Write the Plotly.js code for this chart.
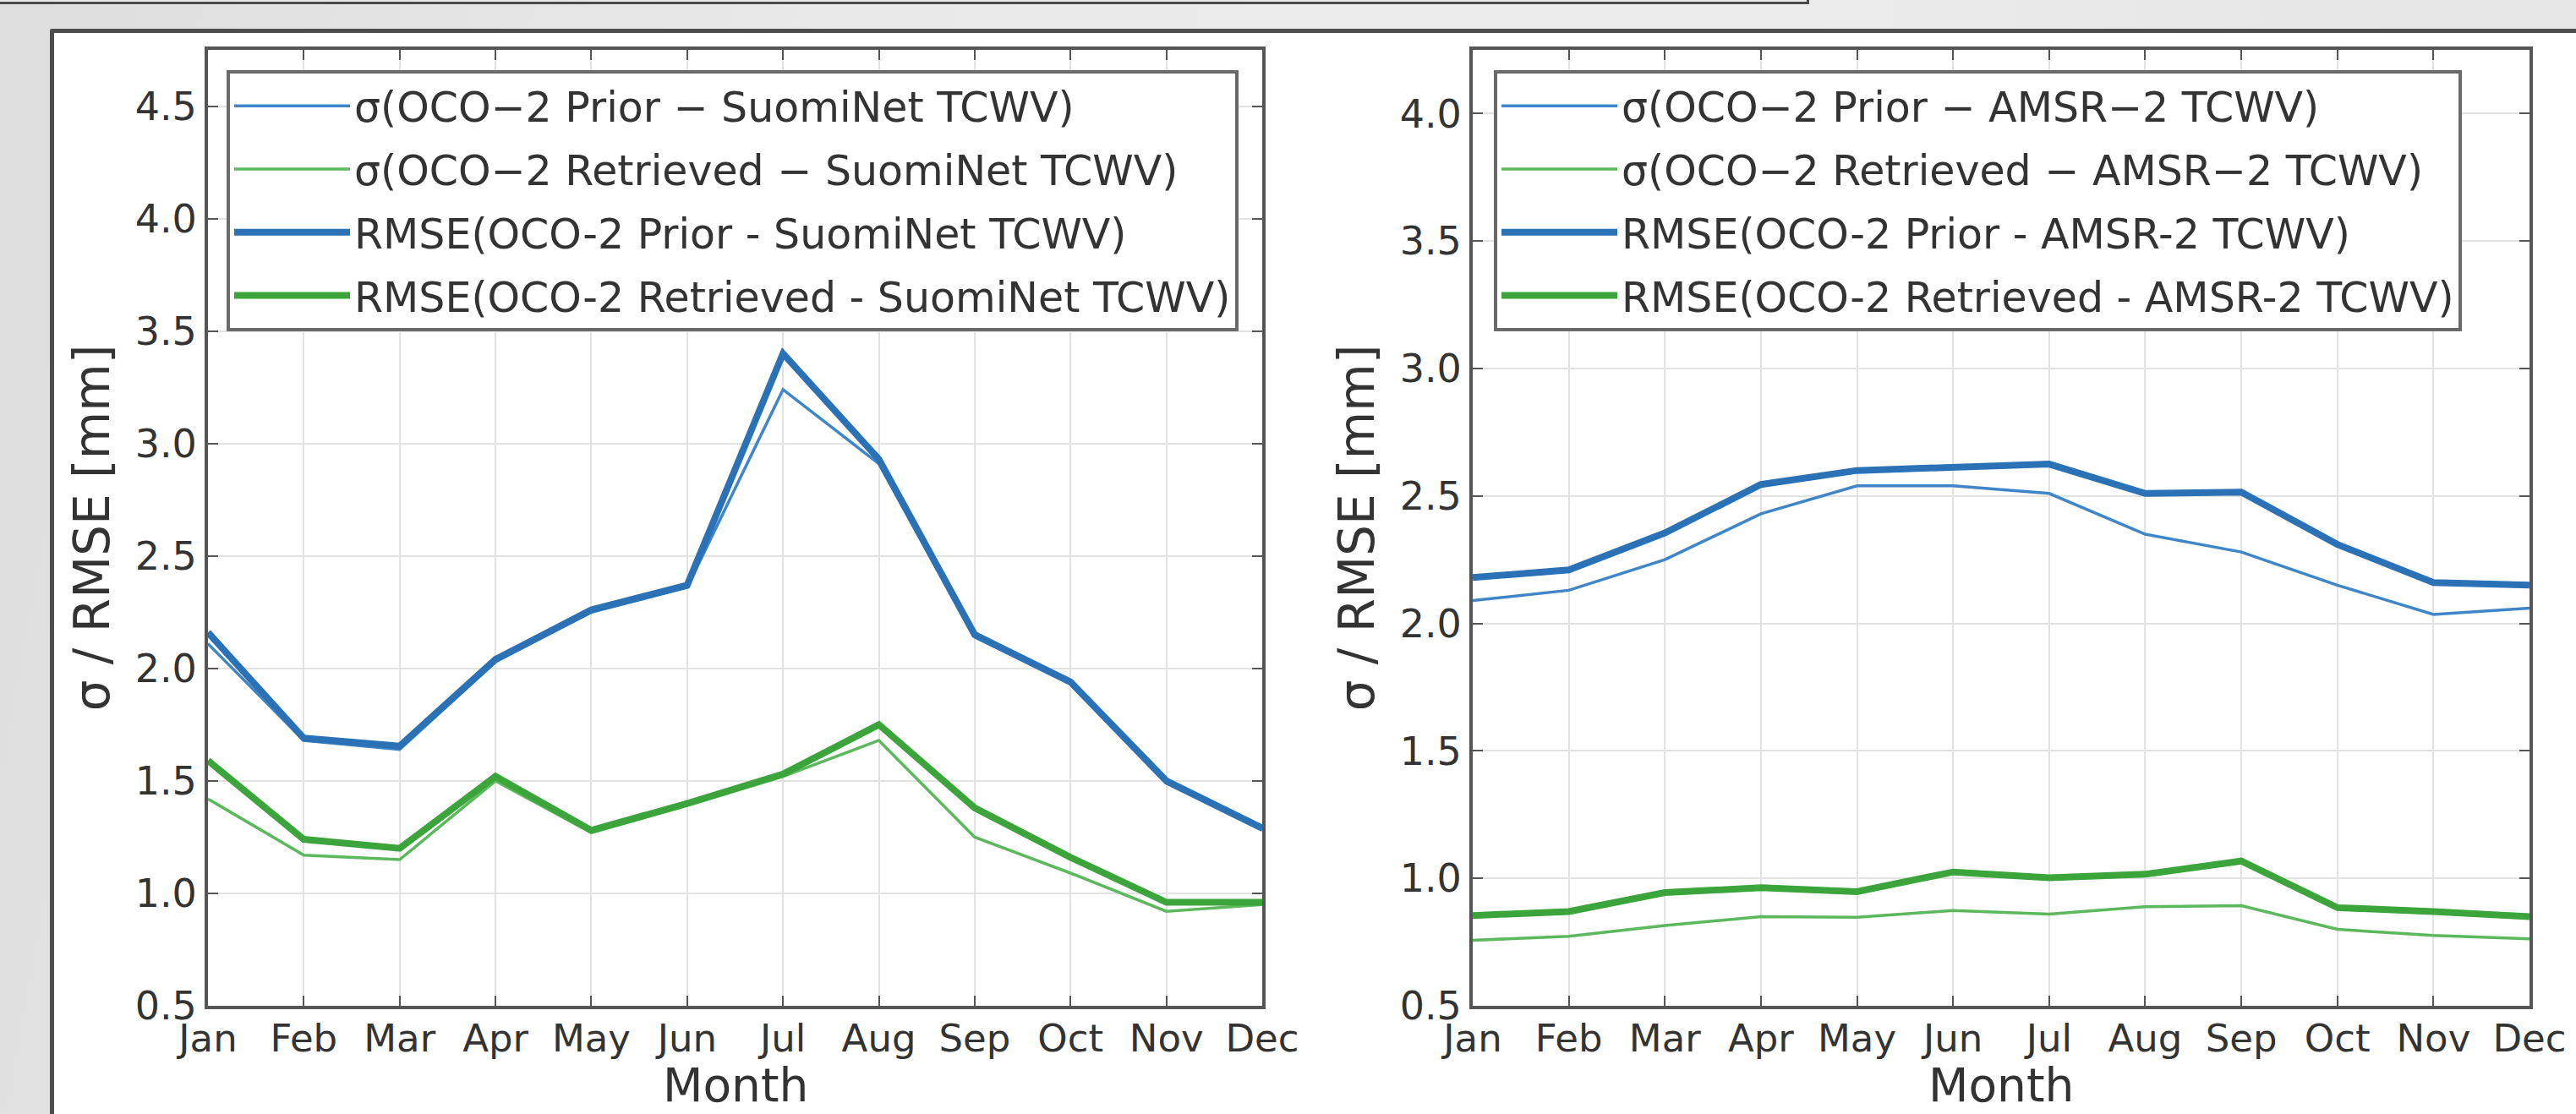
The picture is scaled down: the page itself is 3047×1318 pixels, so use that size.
<!DOCTYPE html>
<html>
<head>
<meta charset="utf-8">
<script src="https://cdn.plot.ly/plotly-3.0.1.min.js"></script>
<style>
  html, body { margin:0; padding:0; }
  body { width:3047px; height:1318px; overflow:hidden; position:relative;
         background: linear-gradient(100deg, #dedede 0%, #e9e9e9 30%, #ececec 60%, #e4e4e4 100%); }
  #topbox { position:absolute; left:-10px; top:-10px; width:2144px; height:9px;
            border:3px solid #4a4a4a; background:#e9e9e9; }
  #frame { position:absolute; left:59px; top:34px; width:3100px; height:1400px;
           border:5px solid #4d4d4d; background:#ffffff; border-radius:2px; }
  #chart { position:absolute; left:0; top:0; width:3047px; height:1318px; }
</style>
</head>
<body>
<div id="topbox"></div>
<div id="frame"></div>
<div id="chart"></div>
<script>
// ---- data ----
const months = ["Jan","Feb","Mar","Apr","May","Jun","Jul","Aug","Sep","Oct","Nov","Dec"];

// Left panel: OCO-2 vs SuomiNet
const sigmaPriorSuomi     = [2.11, 1.68, 1.64, 2.03, 2.25, 2.36, 3.24, 2.91, 2.14, 1.93, 1.49, 1.28];
const sigmaRetrievedSuomi = [1.42, 1.17, 1.15, 1.50, 1.27, 1.39, 1.52, 1.68, 1.25, 1.09, 0.92, 0.95];
const rmsePriorSuomi      = [2.16, 1.69, 1.655, 2.04, 2.26, 2.37, 3.40, 2.93, 2.15, 1.94, 1.50, 1.29];
const rmseRetrievedSuomi  = [1.59, 1.24, 1.20, 1.52, 1.28, 1.40, 1.53, 1.75, 1.38, 1.16, 0.96, 0.96];

// Right panel: OCO-2 vs AMSR-2
const sigmaPriorAmsr      = [2.09, 2.13, 2.25, 2.43, 2.54, 2.54, 2.51, 2.35, 2.28, 2.15, 2.035, 2.06];
const sigmaRetrievedAmsr  = [0.757, 0.773, 0.815, 0.85, 0.847, 0.874, 0.86, 0.889, 0.893, 0.80, 0.776, 0.763];
const rmsePriorAmsr       = [2.18, 2.21, 2.355, 2.545, 2.60, 2.61, 2.625, 2.51, 2.515, 2.31, 2.16, 2.15];
const rmseRetrievedAmsr   = [0.854, 0.87, 0.944, 0.963, 0.948, 1.025, 1.002, 1.016, 1.068, 0.885, 0.87, 0.85];

const yTicksLeft  = [0.5, 1.0, 1.5, 2.0, 2.5, 3.0, 3.5, 4.0, 4.5];
const yTicksRight = [0.5, 1.0, 1.5, 2.0, 2.5, 3.0, 3.5, 4.0];

const namesLeft = [
  "σ(OCO−2 Prior − SuomiNet TCWV)",
  "σ(OCO−2 Retrieved − SuomiNet TCWV)",
  "RMSE(OCO-2 Prior - SuomiNet TCWV)",
  "RMSE(OCO-2 Retrieved - SuomiNet TCWV)"
];
const namesRight = [
  "σ(OCO−2 Prior − AMSR−2 TCWV)",
  "σ(OCO−2 Retrieved − AMSR−2 TCWV)",
  "RMSE(OCO-2 Prior - AMSR-2 TCWV)",
  "RMSE(OCO-2 Retrieved - AMSR-2 TCWV)"
];
const xTitle = "Month";
const yTitle = "σ / RMSE [mm]";

// ---- styling ----
const W = 3047, H = 1318;
const FONT = "DejaVu Sans";
const BLUE_THIN = "#3f86c8", BLUE_THICK = "#2a71b6";
const GREEN_THIN = "#5cb85c", GREEN_THICK = "#3ba53b";
const THIN = 3.5, THICK = 8;

function mk(y, name, color, width, xa, ya, leg, grp) {
  return { x: months, y: y, name: name, type: "scatter", mode: "lines",
           line: { color: color, width: width }, xaxis: xa, yaxis: ya,
           legend: leg, legendgroup: grp, hoverinfo: "skip" };
}

const traces = [
  mk(sigmaPriorSuomi,     namesLeft[0], BLUE_THIN,   THIN,  "x",  "y",  "legend",  "a1"),
  mk(sigmaRetrievedSuomi, namesLeft[1], GREEN_THIN,  THIN,  "x",  "y",  "legend",  "a2"),
  mk(rmsePriorSuomi,      namesLeft[2], BLUE_THICK,  THICK, "x",  "y",  "legend",  "a3"),
  mk(rmseRetrievedSuomi,  namesLeft[3], GREEN_THICK, THICK, "x",  "y",  "legend",  "a4"),
  mk(sigmaPriorAmsr,      namesRight[0], BLUE_THIN,   THIN,  "x2", "y2", "legend2", "b1"),
  mk(sigmaRetrievedAmsr,  namesRight[1], GREEN_THIN,  THIN,  "x2", "y2", "legend2", "b2"),
  mk(rmsePriorAmsr,       namesRight[2], BLUE_THICK,  THICK, "x2", "y2", "legend2", "b3"),
  mk(rmseRetrievedAmsr,   namesRight[3], GREEN_THICK, THICK, "x2", "y2", "legend2", "b4")
];

const tickFont = { family: FONT, size: 46, color: "#333333" };
const xTickFont = { family: FONT, size: 45, color: "#333333" };
const titleFont = { family: FONT, size: 58, color: "#333333" };
const xTitleFont = { family: FONT, size: 55, color: "#333333" };

function axBase() {
  return { showline: true, linecolor: "#555555", linewidth: 4, mirror: "ticks",
           ticks: "inside", ticklen: 12, tickwidth: 2, tickcolor: "#555555",
           showgrid: true, gridcolor: "#e2e2e2", gridwidth: 2,
           zeroline: false, tickfont: tickFont, fixedrange: true };
}
function xAx(domain) {
  return Object.assign(axBase(), { domain: domain, type: "category",
    categoryorder: "array", categoryarray: months, range: [0, 11],
    tickfont: xTickFont, ticklabelstandoff: -4 });
}
function yAx(domain, range, tv, anchor) {
  return Object.assign(axBase(), { domain: domain, range: range, anchor: anchor,
    tickvals: tv, ticktext: tv.map(v => v.toFixed(1)), ticklabelstandoff: 0,
    title: { text: yTitle, font: titleFont, standoff: 12 } });
}

const xDomL = [246 / W, 1493 / W], xDomR = [1742 / W, 2992 / W];
const yDom = [(H - 1190) / H, (H - 59) / H];
const legendCommon = { bgcolor: "#ffffff", bordercolor: "#6a6a6a", borderwidth: 4,
  font: { family: FONT, size: 49, color: "#333333" }, xanchor: "left", yanchor: "top",
  traceorder: "grouped", tracegroupgap: 8, itemwidth: 137 };

function xTitleAnn(dom) {
  return { text: xTitle, font: xTitleFont, xref: "paper", yref: "paper",
           x: (dom[0] + dom[1]) / 2, y: 1 / H, xanchor: "center", yanchor: "bottom",
           borderpad: 0, showarrow: false };
}

const layout = {
  width: W, height: H, margin: { l: 0, r: 0, t: 0, b: 0, pad: 0 },
  paper_bgcolor: "rgba(0,0,0,0)", plot_bgcolor: "rgba(0,0,0,0)",
  showlegend: true,
  xaxis:  xAx(xDomL),
  yaxis:  yAx(yDom, [0.5, 4.75], yTicksLeft, "x"),
  xaxis2: Object.assign(xAx(xDomR), { anchor: "y2" }),
  yaxis2: yAx(yDom, [0.5, 4.25], yTicksRight, "x2"),
  legend:  Object.assign({}, legendCommon, { x: 268 / W, y: 1 - 83 / H }),
  legend2: Object.assign({}, legendCommon, { x: 1767 / W, y: 1 - 83 / H }),
  annotations: [xTitleAnn(xDomL), xTitleAnn(xDomR)]
};

Plotly.newPlot("chart", traces, layout, { staticPlot: true, displayModeBar: false });
</script>
</body>
</html>
